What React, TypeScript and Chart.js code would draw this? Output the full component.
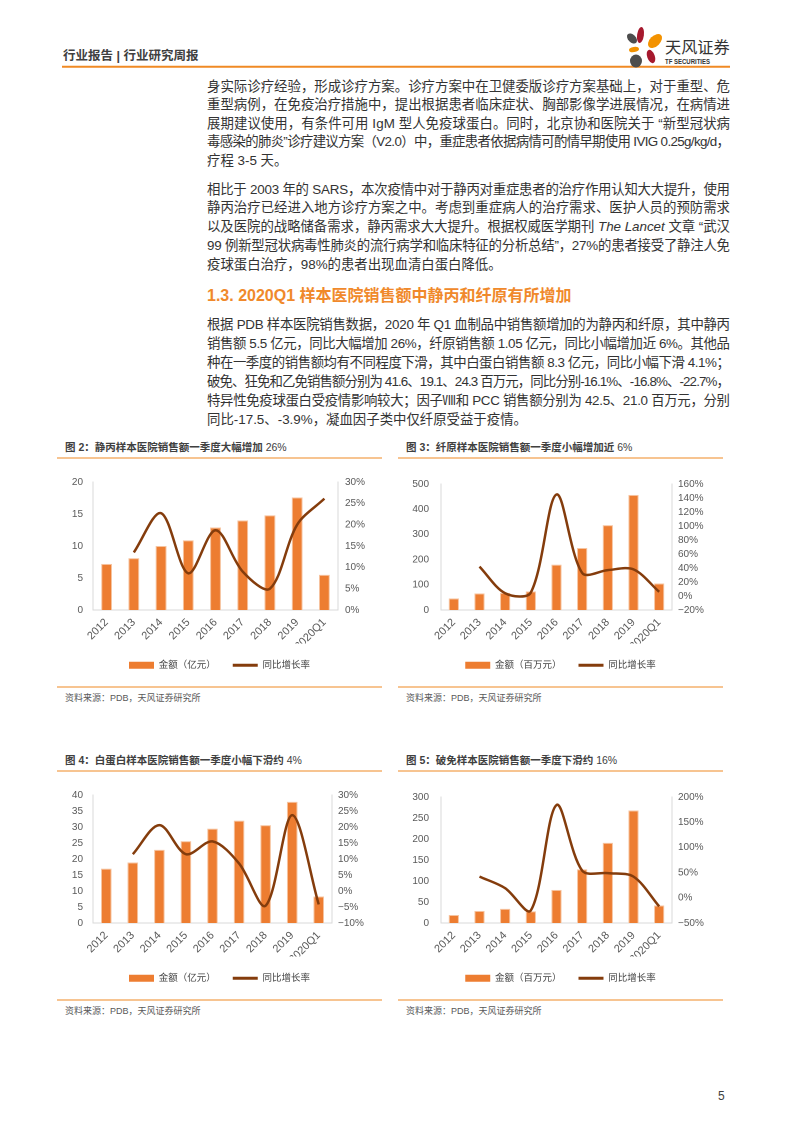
import React, { useEffect, useRef } from "react";
import { Chart, registerables } from "chart.js";

Chart.register(...registerables);

// ---------------- data ----------------
const years = ["2012", "2013", "2014", "2015", "2016", "2017", "2018", "2019", "2020Q1"];

// 图2 静丙 (亿元, %)
const ivigSales = [7.2, 8.1, 10.0, 10.9, 12.9, 14.0, 14.8, 17.6, 5.5];
const ivigGrowth = [null, 13.5, 22.7, 8.6, 18.7, 9.0, 5.0, 20.0, 26.1];

// 图3 纤原 (百万元, %)
const fibSales = [46, 66, 68, 74, 180, 246, 337, 457, 105];
const fibGrowth = [null, 42, 4, 5, 145, 33, 37, 38, 6];

// 图4 白蛋白 (亿元, %)
const albSales = [17.0, 18.9, 22.9, 25.6, 29.5, 32.0, 30.6, 37.9, 8.3];
const albGrowth = [null, 11.5, 20.6, 11.5, 15.5, 8.6, -4.6, 23.7, -4.2];

// 图5 破免 (百万元, %)
const tetSales = [19, 29, 34, 28, 79, 128, 191, 268, 41.6];
const tetGrowth = [null, 42, 19, -25, 184, 54, 49, 42, -17];

// axis ranges
const ivigAxis = { min: 0, max: 20, step: 5 };
const ivigPctAxis = { min: 0, max: 30, step: 5 };
const fibAxis = { min: 0, max: 500, step: 100 };
const fibPctAxis = { min: -20, max: 160, step: 20 };
const albAxis = { min: 0, max: 40, step: 5 };
const albPctAxis = { min: -10, max: 30, step: 5 };
const tetAxis = { min: 0, max: 300, step: 50 };
const tetPctAxis = { min: -50, max: 200, step: 50 };

const legendBarYi = "金额（亿元）";
const legendBarMillion = "金额（百万元）";
const legendLine = "同比增长率";

// ---------------- text ----------------
const headerText = "行业报告 | 行业研究周报";
const para1 = [
  "身实际诊疗经验，形成诊疗方案。诊疗方案中在卫健委版诊疗方案基础上，对于重型、危",
  "重型病例，在免疫治疗措施中，提出根据患者临床症状、胸部影像学进展情况，在病情进",
  "展期建议使用，有条件可用 IgM 型人免疫球蛋白。同时，北京协和医院关于 “新型冠状病",
  "毒感染的肺炎”诊疗建议方案（V2.0）中，重症患者依据病情可酌情早期使用 IVIG 0.25g/kg/d，",
  "疗程 3-5 天。",
];
const para2 = [
  "相比于 2003 年的 SARS，本次疫情中对于静丙对重症患者的治疗作用认知大大提升，使用",
  "静丙治疗已经进入地方诊疗方案之中。考虑到重症病人的治疗需求、医护人员的预防需求",
  "以及医院的战略储备需求，静丙需求大大提升。根据权威医学期刊 *The Lancet* 文章 “武汉",
  "99 例新型冠状病毒性肺炎的流行病学和临床特征的分析总结”，27%的患者接受了静注人免",
  "疫球蛋白治疗，98%的患者出现血清白蛋白降低。",
];
const heading = "1.3. 2020Q1 样本医院销售额中静丙和纤原有所增加";
const para3 = [
  "根据 PDB 样本医院销售数据，2020 年 Q1 血制品中销售额增加的为静丙和纤原，其中静丙",
  "销售额 5.5 亿元，同比大幅增加 26%，纤原销售额 1.05 亿元，同比小幅增加近 6%。其他品",
  "种在一季度的销售额均有不同程度下滑，其中白蛋白销售额 8.3 亿元，同比小幅下滑 4.1%；",
  "破免、狂免和乙免销售额分别为 41.6、19.1、24.3 百万元，同比分别-16.1%、-16.8%、-22.7%，",
  "特异性免疫球蛋白受疫情影响较大；因子Ⅷ和 PCC 销售额分别为 42.5、21.0 百万元，分别",
  "同比-17.5、-3.9%，凝血因子类中仅纤原受益于疫情。",
];
const fig2Title = ["图 2：静丙样本医院销售额一季度大幅增加", " 26%"];
const fig3Title = ["图 3：纤原样本医院销售额一季度小幅增加近", " 6%"];
const fig4Title = ["图 4：白蛋白样本医院销售额一季度小幅下滑约", " 4%"];
const fig5Title = ["图 5：破免样本医院销售额一季度下滑约", " 16%"];
const sourceText = "资料来源：PDB，天风证券研究所";

// ---------------- styles ----------------
const ORANGE = "#F08A24";
const BAR = "#ED7D31";
const BAR_EDGE = "#F6C4A0";
const LINE = "#843C0C";
const AXIS = "#D9D9D9";
const TICK = "#595959";
const LATIN = "'Liberation Sans', Arial, 'Noto Sans CJK SC', sans-serif";
const CJK = "'Liberation Sans', 'Noto Sans CJK SC', sans-serif";

type Range = { min: number; max: number; step: number };
type Spec = {
  left: number;
  top: number;
  leftW: number;
  rightW: number;
  leftPad: number;
  rightPad: number;
  values: number[];
  growth: (number | null)[];
  axis: Range;
  pct: Range;
  barLabel: string;
};

const CW = 325;
const CH = 214;
const XH = 33.5;

function ComboChart({ spec }: { spec: Spec }) {
  const ref = useRef<HTMLCanvasElement | null>(null);
  useEffect(() => {
    if (!ref.current) return;
    const chart = new Chart(ref.current, {
      type: "bar",
      data: {
        labels: years,
        datasets: [
          {
            type: "bar",
            label: spec.barLabel,
            data: spec.values,
            backgroundColor: BAR,
            borderColor: BAR_EDGE,
            borderWidth: 1,
            barPercentage: 0.4,
            categoryPercentage: 1,
            yAxisID: "y",
            order: 1,
          } as any,
          {
            type: "line",
            label: legendLine,
            data: spec.growth,
            borderColor: LINE,
            backgroundColor: LINE,
            borderWidth: 2.5,
            pointRadius: 0,
            tension: 0.32,
            fill: false,
            yAxisID: "y1",
            order: 0,
            clip: false,
          } as any,
        ],
      },
      options: {
        responsive: false,
        animation: false,
        devicePixelRatio: 2,
        events: [],
        layout: { padding: { top: 10, left: 0, right: 0, bottom: 0 } },
        plugins: {
          tooltip: { enabled: false },
          title: { display: false },
          legend: {
            display: true,
            position: "bottom",
            labels: {
              usePointStyle: true,
              pointStyleWidth: 25,
              boxHeight: 7,
              padding: 17,
              color: "#404040",
              font: { family: CJK, size: 9.5 },
              generateLabels: (c: any) =>
                c.data.datasets.map((ds: any, i: number) => ({
                  text: ds.label,
                  fillStyle: i === 0 ? BAR : "rgba(0,0,0,0)",
                  strokeStyle: i === 0 ? BAR : LINE,
                  lineWidth: i === 0 ? 0 : 3,
                  pointStyle: i === 0 ? "rect" : "line",
                  hidden: false,
                  datasetIndex: i,
                  fontColor: "#404040",
                })),
            },
          },
        },
        scales: {
          x: {
            grid: { display: false, drawTicks: false },
            border: { display: true, color: AXIS, width: 1 },
            ticks: {
              autoSkip: false,
              minRotation: 45,
              maxRotation: 45,
              padding: 6,
              color: TICK,
              font: { family: LATIN, size: 11 },
            },
            afterFit: (s: any) => {
              s.height = XH;
            },
          },
          y: {
            position: "left",
            min: spec.axis.min,
            max: spec.axis.max,
            grid: { display: false, drawTicks: false },
            border: { display: true, color: AXIS, width: 1 },
            ticks: {
              autoSkip: false,
              stepSize: spec.axis.step,
              padding: spec.leftPad,
              color: TICK,
              font: { family: LATIN, size: 10 },
            },
            afterFit: (s: any) => {
              s.width = spec.leftW;
            },
          },
          y1: {
            position: "right",
            min: spec.pct.min,
            max: spec.pct.max,
            grid: { display: false, drawTicks: false },
            border: { display: true, color: AXIS, width: 1 },
            ticks: {
              autoSkip: false,
              stepSize: spec.pct.step,
              padding: spec.rightPad,
              color: TICK,
              font: { family: LATIN, size: 10 },
              callback: (v: any) => (Number(v) < 0 ? "−" + Math.abs(Number(v)) : String(v)) + "%",
            },
            afterFit: (s: any) => {
              s.width = spec.rightW;
            },
          },
        },
      } as any,
    });
    return () => chart.destroy();
  }, [spec]);
  return (
    <canvas
      ref={ref}
      width={CW}
      height={CH}
      style={{ position: "absolute", left: spec.left, top: spec.top, width: CW, height: CH }}
    />
  );
}

const spec2: Spec = {
  left: 57, top: 466, leftW: 36, rightW: 44, leftPad: 10, rightPad: 7,
  values: ivigSales, growth: ivigGrowth, axis: ivigAxis, pct: ivigPctAxis, barLabel: legendBarYi,
};
const spec3: Spec = {
  left: 398, top: 466, leftW: 43, rightW: 51, leftPad: 12, rightPad: 6,
  values: fibSales, growth: fibGrowth, axis: fibAxis, pct: fibPctAxis, barLabel: legendBarMillion,
};
const spec4: Spec = {
  left: 57, top: 779, leftW: 36, rightW: 50, leftPad: 10, rightPad: 6,
  values: albSales, growth: albGrowth, axis: albAxis, pct: albPctAxis, barLabel: legendBarYi,
};
const spec5: Spec = {
  left: 398, top: 779, leftW: 43, rightW: 51, leftPad: 12, rightPad: 6,
  values: tetSales, growth: tetGrowth, axis: tetAxis, pct: tetPctAxis, barLabel: legendBarMillion,
};

function renderParts(line: string) {
  const parts = line.split("*");
  return parts.map((p, i) =>
    i % 2 === 1 ? (
      <tspan key={i} fontStyle="italic">
        {p}
      </tspan>
    ) : (
      <tspan key={i}>{p}</tspan>
    )
  );
}

const TEXT_X = 207;
const TEXT_W = 523;

function Paragraph({ lines, y0, pitch }: { lines: string[]; y0: number; pitch: number }) {
  return (
    <g>
      {lines.map((l, i) => {
        const last = i === lines.length - 1;
        const extra: any = last ? {} : { textLength: TEXT_W, lengthAdjust: "spacing" };
        return (
          <text
            key={i}
            x={TEXT_X}
            y={y0 + i * pitch}
            dominantBaseline="central"
            fontSize={13.4}
            fill="#333333"
            fontFamily={CJK}
            {...extra}
          >
            {renderParts(l)}
          </text>
        );
      })}
    </g>
  );
}

function FigureFrame({ x, y, title }: { x: number; y: number; title: string[] }) {
  return (
    <g>
      <text x={x + 8} y={y - 11} dominantBaseline="central" fontSize={10.5} fill="#404040" fontFamily={CJK}>
        <tspan fontWeight="bold">{title[0]}</tspan>
        <tspan>{title[1]}</tspan>
      </text>
      <line x1={x} x2={x + 325} y1={y} y2={y} stroke={ORANGE} strokeWidth={1.2} />
      <line x1={x} x2={x + 325} y1={y + 229} y2={y + 229} stroke={ORANGE} strokeWidth={1.2} />
      <text x={x + 8} y={y + 239.5} dominantBaseline="central" fontSize={9} fill="#595959" fontFamily={CJK}>
        {sourceText}
      </text>
    </g>
  );
}

function Logo() {
  return (
    <g>
      <ellipse cx={640.5} cy={35} rx={3.4} ry={8} fill="#A6192E" transform="rotate(8 640.5 35)" />
      <ellipse cx={655} cy={41} rx={5.2} ry={8.5} fill="#F39200" transform="rotate(45 655 41)" />
      <ellipse cx={632} cy={38.5} rx={3.8} ry={6} fill="#4D4D4D" transform="rotate(-45 632 38.5)" />
      <ellipse cx={634} cy={49.5} rx={5} ry={2.6} fill="#F39200" transform="rotate(-8 634 49.5)" />
      <ellipse cx={636} cy={61} rx={6} ry={6.5} fill="#4D4D4D" />
      <ellipse cx={651} cy={56.5} rx={3.8} ry={7} fill="#A6192E" transform="rotate(-20 651 56.5)" />
      <text x={665} y={46.5} dominantBaseline="central" fontSize={16.2} fill="#333333" fontFamily={CJK}>
        天风证券
      </text>
      <text x={665} y={61} dominantBaseline="central" fontSize={6.3} fontWeight="bold" fill="#333333" fontFamily={LATIN} textLength={45} lengthAdjust="spacingAndGlyphs">
        TF SECURITIES
      </text>
    </g>
  );
}

export default function App() {
  useEffect(() => {
    document.body.style.margin = "0";
    Chart.defaults.font.family = LATIN;
  }, []);
  return (
    <div style={{ position: "absolute", left: 0, top: 0, width: 793, height: 1122, background: "#fff", overflow: "hidden" }}>
      <svg width={793} height={1122} style={{ position: "absolute", left: 0, top: 0 }}>
        <text x={63} y={55.7} dominantBaseline="central" fontSize={12.5} fontWeight="bold" fill="#404040" fontFamily={CJK}>
          {headerText}
        </text>
        <line x1={62} x2={730} y1={66.7} y2={66.7} stroke={ORANGE} strokeWidth={2} />
        <Logo />

        <Paragraph lines={para1} y0={85.5} pitch={18.5} />
        <Paragraph lines={para2} y0={188.5} pitch={18.8} />
        <text x={TEXT_X} y={295} dominantBaseline="central" fontSize={16} fontWeight="bold" fill="#F0892B" fontFamily={CJK}>
          {heading}
        </text>
        <Paragraph lines={para3} y0={324} pitch={18.9} />

        <FigureFrame x={57} y={458} title={fig2Title} />
        <FigureFrame x={398} y={458} title={fig3Title} />
        <FigureFrame x={57} y={771} title={fig4Title} />
        <FigureFrame x={398} y={771} title={fig5Title} />

        <text x={718} y={1096} dominantBaseline="central" fontSize={12} fill="#404040" fontFamily={LATIN}>
          5
        </text>
      </svg>
      <ComboChart spec={spec2} />
      <ComboChart spec={spec3} />
      <ComboChart spec={spec4} />
      <ComboChart spec={spec5} />
    </div>
  );
}
